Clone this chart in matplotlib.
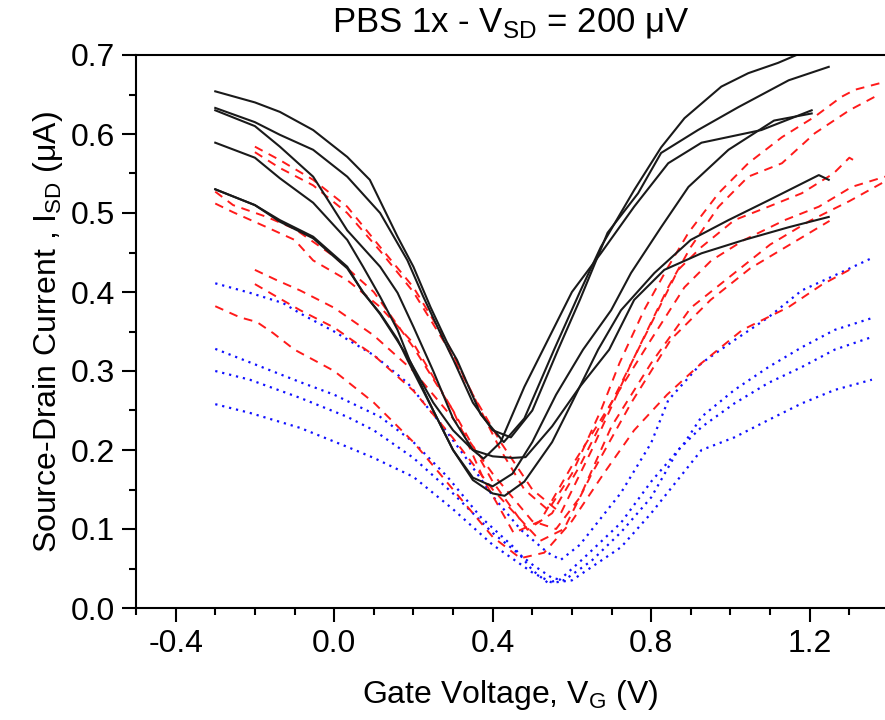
import matplotlib
matplotlib.use("Agg")
import matplotlib.pyplot as plt
from matplotlib.ticker import MultipleLocator

plt.rcParams['font.family'] = ['Liberation Sans', 'DejaVu Sans']

# ---- black solid curves ----
k1_x = [-0.3, -0.2, -0.137, -0.053, 0.033, 0.09, 0.16, 0.2, 0.243, 0.286, 0.31, 0.37, 0.428, 0.48, 0.555, 0.62, 0.673, 0.757, 0.825, 0.884, 0.977, 1.045, 1.12, 1.19]
k1_y = [0.654, 0.64, 0.628, 0.605, 0.571, 0.542, 0.47, 0.432, 0.381, 0.335, 0.314, 0.245, 0.21, 0.24, 0.327, 0.4, 0.457, 0.529, 0.583, 0.62, 0.66, 0.677, 0.69, 0.705]
k2_x = [-0.3, -0.2, -0.137, -0.053, 0.033, 0.116, 0.185, 0.225, 0.268, 0.301, 0.35, 0.40, 0.446, 0.50, 0.565, 0.62, 0.69, 0.767, 0.825, 0.918, 1.02, 1.147, 1.248]
k2_y = [0.633, 0.615, 0.599, 0.58, 0.546, 0.5, 0.44, 0.394, 0.348, 0.314, 0.26, 0.225, 0.216, 0.25, 0.327, 0.39, 0.475, 0.525, 0.576, 0.605, 0.634, 0.668, 0.685]
k3_x = [-0.3, -0.2, -0.137, -0.053, 0.033, 0.116, 0.16, 0.2, 0.25, 0.3, 0.35, 0.377, 0.42, 0.48, 0.55, 0.6, 0.673, 0.757, 0.843, 0.927, 1.078, 1.205]
k3_y = [0.63, 0.61, 0.584, 0.546, 0.478, 0.432, 0.399, 0.356, 0.3, 0.24, 0.2, 0.189, 0.21, 0.28, 0.35, 0.4, 0.449, 0.508, 0.563, 0.589, 0.605, 0.63]
k4_x = [-0.3, -0.2, -0.137, -0.053, 0.033, 0.073, 0.116, 0.16, 0.19, 0.25, 0.3, 0.35, 0.40, 0.45, 0.5, 0.56, 0.628, 0.699, 0.749, 0.825, 0.894, 0.995, 1.11, 1.205]
k4_y = [0.589, 0.57, 0.544, 0.513, 0.466, 0.432, 0.394, 0.352, 0.314, 0.25, 0.2, 0.165, 0.154, 0.17, 0.21, 0.27, 0.327, 0.377, 0.424, 0.482, 0.533, 0.58, 0.617, 0.626]
k5_x = [-0.3, -0.2, -0.137, -0.053, 0.033, 0.073, 0.116, 0.16, 0.185, 0.25, 0.3, 0.35, 0.40, 0.43, 0.48, 0.55, 0.6, 0.666, 0.724, 0.808, 0.9, 0.995, 1.096, 1.223, 1.248]
k5_y = [0.53, 0.51, 0.491, 0.47, 0.432, 0.399, 0.373, 0.34, 0.314, 0.25, 0.2, 0.162, 0.145, 0.142, 0.16, 0.21, 0.26, 0.327, 0.377, 0.424, 0.466, 0.491, 0.516, 0.548, 0.542]
k6_x = [-0.3, -0.2, -0.137, -0.053, 0.033, 0.073, 0.116, 0.16, 0.185, 0.25, 0.3, 0.35, 0.40, 0.45, 0.483, 0.55, 0.62, 0.694, 0.757, 0.833, 0.927, 1.035, 1.147, 1.248]
k6_y = [0.53, 0.51, 0.489, 0.468, 0.43, 0.4, 0.372, 0.338, 0.318, 0.26, 0.225, 0.2, 0.192, 0.19, 0.191, 0.23, 0.28, 0.327, 0.39, 0.428, 0.449, 0.466, 0.482, 0.495]

# ---- red dashed curves ----
r1_x = [-0.2, -0.137, -0.053, 0.033, 0.116, 0.2, 0.286, 0.35, 0.42, 0.48, 0.54, 0.6, 0.673, 0.72, 0.782, 0.843, 0.894, 0.97, 1.045, 1.13, 1.213, 1.28, 1.314, 1.39]
r1_y = [0.584, 0.567, 0.542, 0.508, 0.457, 0.406, 0.335, 0.27, 0.2, 0.15, 0.124, 0.17, 0.25, 0.31, 0.377, 0.432, 0.475, 0.525, 0.563, 0.596, 0.622, 0.647, 0.656, 0.666]
r2_x = [-0.2, -0.137, -0.053, 0.033, 0.116, 0.2, 0.286, 0.35, 0.42, 0.5, 0.572, 0.65, 0.75, 0.843, 0.9, 0.97, 1.045, 1.13, 1.213, 1.3, 1.375]
r2_y = [0.577, 0.557, 0.535, 0.5, 0.452, 0.4, 0.33, 0.27, 0.21, 0.15, 0.12, 0.2, 0.31, 0.406, 0.457, 0.508, 0.546, 0.563, 0.601, 0.63, 0.65]
r3_x = [-0.3, -0.255, -0.17, -0.1, 0.0, 0.1, 0.2, 0.3, 0.4, 0.488, 0.55, 0.62, 0.7, 0.8, 0.868, 0.927, 1.01, 1.096, 1.18, 1.26, 1.30, 1.324]
r3_y = [0.527, 0.51, 0.495, 0.48, 0.445, 0.4, 0.33, 0.25, 0.16, 0.099, 0.12, 0.18, 0.26, 0.36, 0.428, 0.457, 0.491, 0.508, 0.525, 0.55, 0.57, 0.563]
r4_x = [-0.3, -0.255, -0.17, -0.1, -0.053, 0.033, 0.116, 0.2, 0.3, 0.38, 0.453, 0.52, 0.6, 0.7, 0.8, 0.884, 0.952, 1.035, 1.137, 1.223, 1.306, 1.39]
r4_y = [0.512, 0.501, 0.482, 0.466, 0.44, 0.415, 0.381, 0.335, 0.25, 0.16, 0.095, 0.11, 0.18, 0.26, 0.34, 0.406, 0.44, 0.466, 0.491, 0.508, 0.533, 0.546]
r5_x = [-0.2, -0.145, -0.086, 0.0, 0.1, 0.2, 0.3, 0.4, 0.5, 0.56, 0.62, 0.7, 0.8, 0.9, 1.0, 1.1, 1.2, 1.3, 1.39]
r5_y = [0.428, 0.415, 0.402, 0.38, 0.345, 0.3, 0.24, 0.17, 0.11, 0.1, 0.14, 0.23, 0.31, 0.38, 0.42, 0.46, 0.49, 0.515, 0.54]
r6_x = [-0.2, -0.145, -0.086, 0.0, 0.1, 0.2, 0.3, 0.4, 0.52, 0.58, 0.65, 0.75, 0.85, 0.95, 1.05, 1.15, 1.25]
r6_y = [0.41, 0.394, 0.377, 0.355, 0.32, 0.275, 0.215, 0.15, 0.085, 0.1, 0.17, 0.26, 0.34, 0.39, 0.43, 0.46, 0.49]
r7_x = [-0.3, -0.238, -0.195, -0.154, -0.1, 0.0, 0.1, 0.2, 0.3, 0.4, 0.47, 0.53, 0.6, 0.68, 0.757, 0.84, 0.927, 1.03, 1.147, 1.23, 1.3]
r7_y = [0.382, 0.368, 0.362, 0.348, 0.327, 0.3, 0.26, 0.21, 0.15, 0.09, 0.063, 0.07, 0.11, 0.17, 0.225, 0.27, 0.31, 0.352, 0.381, 0.409, 0.428]

# ---- blue dotted curves ----
b1_x = [-0.3, -0.213, -0.129, -0.086, 0.0, 0.1, 0.185, 0.268, 0.337, 0.403, 0.471, 0.539, 0.572, 0.62, 0.724, 0.8, 0.843, 0.927, 1.01, 1.096, 1.18, 1.263, 1.357]
b1_y = [0.411, 0.399, 0.386, 0.373, 0.35, 0.32, 0.285, 0.234, 0.187, 0.14, 0.099, 0.07, 0.061, 0.08, 0.146, 0.209, 0.263, 0.31, 0.339, 0.368, 0.402, 0.421, 0.443]
b2_x = [-0.3, -0.213, -0.086, 0.0, 0.116, 0.2, 0.286, 0.37, 0.453, 0.5, 0.539, 0.57, 0.623, 0.724, 0.8, 0.884, 0.927, 1.01, 1.096, 1.18, 1.263, 1.357]
b2_y = [0.328, 0.311, 0.286, 0.27, 0.242, 0.21, 0.166, 0.115, 0.077, 0.048, 0.032, 0.036, 0.06, 0.108, 0.16, 0.209, 0.242, 0.276, 0.305, 0.33, 0.352, 0.367]
b3_x = [-0.3, -0.213, -0.086, 0.033, 0.1, 0.2, 0.3, 0.4, 0.5, 0.55, 0.58, 0.65, 0.724, 0.8, 0.868, 0.927, 1.01, 1.096, 1.18, 1.263, 1.357]
b3_y = [0.30, 0.289, 0.266, 0.242, 0.225, 0.19, 0.145, 0.095, 0.055, 0.038, 0.035, 0.06, 0.096, 0.14, 0.2, 0.229, 0.259, 0.285, 0.305, 0.327, 0.343]
b4_x = [-0.3, -0.213, -0.086, 0.033, 0.1, 0.2, 0.3, 0.4, 0.5, 0.55, 0.6, 0.724, 0.8, 0.927, 1.01, 1.096, 1.18, 1.263, 1.357]
b4_y = [0.258, 0.247, 0.228, 0.204, 0.19, 0.166, 0.125, 0.08, 0.045, 0.032, 0.035, 0.077, 0.12, 0.2, 0.216, 0.238, 0.259, 0.276, 0.289]

black = [(k1_x, k1_y), (k2_x, k2_y), (k3_x, k3_y), (k4_x, k4_y), (k5_x, k5_y), (k6_x, k6_y)]
red = [(r1_x, r1_y), (r2_x, r2_y), (r3_x, r3_y), (r4_x, r4_y), (r5_x, r5_y), (r6_x, r6_y), (r7_x, r7_y)]
blue = [(b1_x, b1_y), (b2_x, b2_y), (b3_x, b3_y), (b4_x, b4_y)]

xticks = [-0.4, 0.0, 0.4, 0.8, 1.2]
yticks = [0.0, 0.1, 0.2, 0.3, 0.4, 0.5, 0.6, 0.7]

fig = plt.figure(figsize=(8.85, 7.2), dpi=100)
ax = fig.add_axes([136/885, 1 - 608/720, 1 - 136/885, (608 - 55)/720])

for x, y in blue:
    ax.plot(x, y, color='#1010ff', lw=1.6, linestyle=(0, (1, 2.2)))
for x, y in red:
    ax.plot(x, y, color='#ff1a1a', lw=1.4, linestyle=(0, (4.5, 3.5)))
for x, y in black:
    ax.plot(x, y, color='#1a1a1a', lw=1.5)

ax.set_xlim(-0.5, 1.39)
ax.set_ylim(0.0, 0.7)
ax.set_xticks(xticks)
ax.set_xticklabels([f"{v:.1f}" for v in xticks])
ax.set_yticks(yticks)
ax.set_yticklabels([f"{v:.1f}" for v in yticks])
ax.xaxis.set_minor_locator(MultipleLocator(0.1))
ax.yaxis.set_minor_locator(MultipleLocator(0.05))
ax.tick_params(which='major', direction='out', length=10, width=1.5, labelsize=23, pad=5)
ax.tick_params(which='minor', direction='out', length=5, width=1.5)
ax.tick_params(axis='both', top=False, right=False)
for s in ['left', 'bottom', 'top']:
    ax.spines[s].set_linewidth(1.5)
ax.spines['right'].set_visible(False)

ax.set_xlabel(r"Gate Voltage, V$_\mathregular{G}$ (V)", fontsize=23, labelpad=14)
ax.set_ylabel(r"Source-Drain Current , I$_\mathregular{SD}$ (μA)", fontsize=23, labelpad=4)
ax.set_title(r"PBS 1x - V$_\mathregular{SD}$ = 200 μV", fontsize=25, pad=17)

fig.savefig("out.png", dpi=100)
